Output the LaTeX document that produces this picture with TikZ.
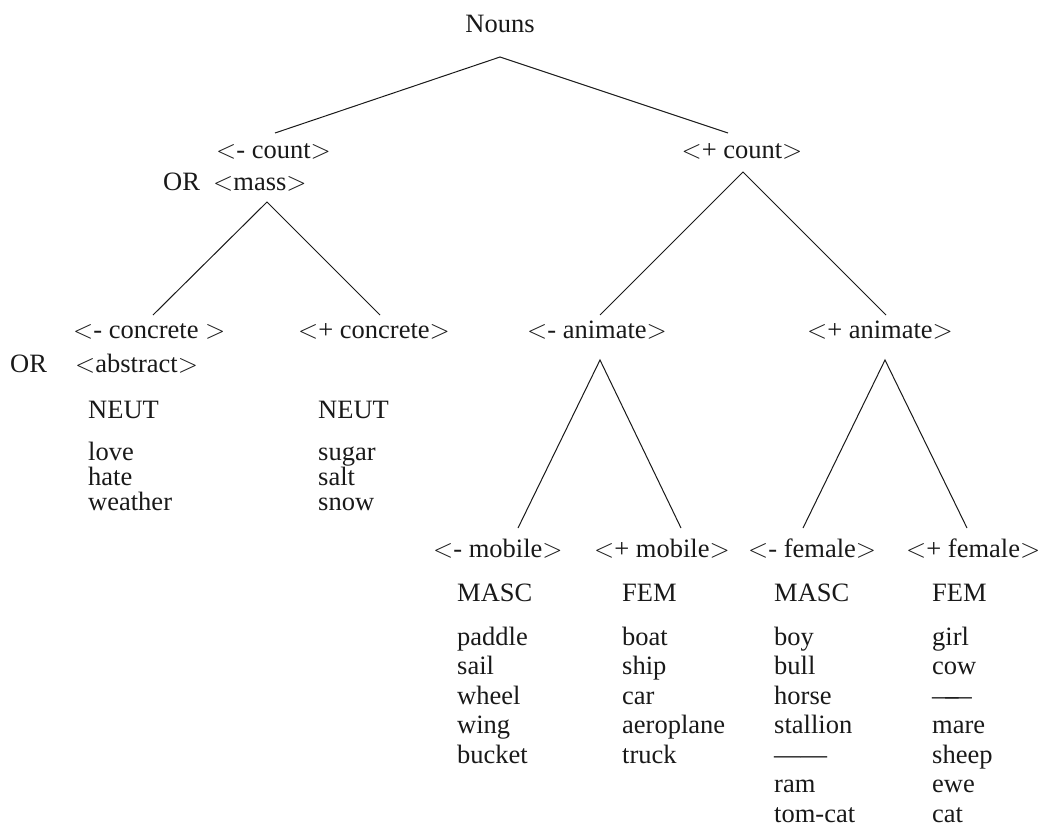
\RequirePackage{fix-cm}
\documentclass[tikz,border=0pt]{standalone}
\usepackage{fontspec}
\setmainfont{Liberation Serif}
% feature label in angle brackets
\newcommand{\feat}[1]{$<$#1$>$}
\newcommand{\longdash}{——}
\newcommand{\shortdash}{—\kern-0.5em—}
\begin{document}
\begin{tikzpicture}[x=1pt,y=-1pt,
  lbl/.style={inner sep=0pt, anchor=base west, text=black!90, font=\fontsize{26.5}{30}\selectfont},
  clbl/.style={lbl, anchor=base},
  branch/.style={line width=1pt, black!90}]
\useasboundingbox (0,0) rectangle (1051,830);

% ---- feature labels ----
\node[clbl] (nouns) at (500,32) {Nouns};
\node[lbl] (mcount) at (216,158) {\feat{- count}};
\node[lbl] (or1) at (163,190) {OR};
\node[lbl] (mass) at (213,190) {\feat{mass}};
\node[clbl] (pcount) at (742,158) {\feat{+ count}};

\node[lbl] (mconc) at (73,338) {\feat{- concrete~}};
\node[lbl] (or2) at (10,372) {OR};
\node[lbl] (abstr) at (75,372) {\feat{abstract}};
\node[lbl] (pconc) at (298,338) {\feat{+ concrete}};
\node[clbl] (manim) at (597,338) {\feat{- animate}};
\node[clbl] (panim) at (880,338) {\feat{+ animate}};

\node[lbl] (mmob) at (433,557) {\feat{- mobile}};
\node[lbl] (pmob) at (594,557) {\feat{+ mobile}};
\node[lbl] (mfem) at (748,557) {\feat{- female}};
\node[lbl] (pfem) at (906,557) {\feat{+ female}};

% ---- gender headings ----
\node[lbl] (g1) at (88,418) {NEUT};
\node[lbl] (g2) at (318,418) {NEUT};
\node[lbl] (g3) at (457,601) {MASC};
\node[lbl] (g4) at (622,601) {FEM};
\node[lbl] (g5) at (774,601) {MASC};
\node[lbl] (g6) at (932,601) {FEM};

% ---- word lists ----
\foreach \w [count=\i from 0] in {love,hate,weather}
  \node[lbl] (la-\i) at (88,{460+25*\i}) {\w};
\foreach \w [count=\i from 0] in {sugar,salt,snow}
  \node[lbl] (lb-\i) at (318,{460+25*\i}) {\w};
\foreach \w [count=\i from 0] in {paddle,sail,wheel,wing,bucket}
  \node[lbl] (lc-\i) at (457,{645+29.5*\i}) {\w};
\foreach \w [count=\i from 0] in {boat,ship,car,aeroplane,truck}
  \node[lbl] (ld-\i) at (622,{645+29.5*\i}) {\w};
\foreach \w [count=\i from 0] in {boy,bull,horse,stallion,\longdash,ram,tom-cat}
  \node[lbl] (le-\i) at (774,{645+29.5*\i}) {\w};
\foreach \w [count=\i from 0] in {girl,cow,\shortdash,mare,sheep,ewe,cat}
  \node[lbl] (lf-\i) at (932,{645+29.5*\i}) {\w};

% ---- branch points ----
\coordinate (aN) at (500,57);
\coordinate (fN1) at (275,133);
\coordinate (fN2) at (728,133);
\coordinate (aM) at (267,202);
\coordinate (fM1) at (153,315);
\coordinate (fM2) at (380,315);
\coordinate (aC) at (743,172);
\coordinate (fC1) at (600,315);
\coordinate (fC2) at (886,315);
\coordinate (aA1) at (600,360);
\coordinate (fA1) at (518,528);
\coordinate (fA2) at (681,528);
\coordinate (aA2) at (885,360);
\coordinate (fA3) at (803,528);
\coordinate (fA4) at (967,528);

% ---- branches ----
\draw[branch] (fN1) -- (aN) -- (fN2);
\draw[branch] (fM1) -- (aM) -- (fM2);
\draw[branch] (fC1) -- (aC) -- (fC2);
\draw[branch] (fA1) -- (aA1) -- (fA2);
\draw[branch] (fA3) -- (aA2) -- (fA4);
\end{tikzpicture}
\end{document}
